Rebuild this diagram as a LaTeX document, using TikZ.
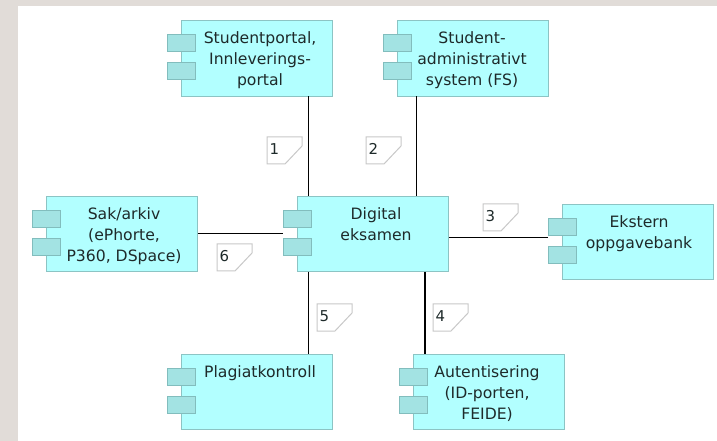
\documentclass[tikz,border=0pt]{standalone}
\usepackage{fontspec}
\setmainfont{DejaVu Sans}
\definecolor{pagegrey}{HTML}{E1DCD8}
\definecolor{compfill}{HTML}{B2FFFF}
\definecolor{compline}{HTML}{8CC4C4}
\definecolor{tabfill}{HTML}{A3E3E3}
\definecolor{tabline}{HTML}{82BDBD}
\definecolor{noteline}{HTML}{C8C8C8}
\definecolor{inktext}{HTML}{1E2A2A}
\tikzset{
  compbox/.style={draw=compline,fill=compfill,line width=1.2bp,minimum width=151.5bp,minimum height=75.5bp,inner sep=0pt,outer sep=0pt,anchor=north west},
  comptab/.style={draw=tabline,fill=tabfill,line width=1.2bp,minimum width=28bp,minimum height=17bp,inner sep=0pt,outer sep=0pt,anchor=north west},
  complabel/.style={anchor=north,align=center,inner sep=0pt,text=inktext,font=\fontsize{15.7}{21}\selectfont},
  conn/.style={draw=black,line width=1.2bp},
  notetext/.style={anchor=west,inner sep=0pt,text=inktext,font=\fontsize{15}{15}\selectfont},
  noteshape/.style={draw=noteline,fill=white,line width=1bp}
}
% name, left, top, text offset, text
\newcommand{\compnode}[5]{%
  \node[compbox] (#1) at (#2,#3) {};
  \node[comptab] (#1t) at (#2-14,#3+14) {};
  \node[comptab] (#1b) at (#2-14,#3+42) {};
  \node[complabel] (#1l) at ([xshift=#4 bp,yshift=-11bp]#1.north) {#5};
}
% name, left, top, text
\newcommand{\notenode}[4]{%
  \draw[noteshape] (#2,#3) -- (#2+35,#3) -- (#2+35,#3+9) -- (#2+18,#3+27) -- (#2,#3+27) -- cycle;
  \node[notetext] (#1) at (#2+2.5,#3+12) {#4};
}
\begin{document}
\begin{tikzpicture}[x=1bp,y=-1bp]
\useasboundingbox (0,0) rectangle (717,441);
\fill[pagegrey] (0,0) rectangle (717,441);
\fill[white] (18,6) rectangle (717,441);

\coordinate (vleft) at (308.5,0);
\coordinate (vfs) at (416.5,0);
\coordinate (vauth) at (425,0);
\coordinate (hsak) at (0,233.5);
\coordinate (hbank) at (0,237.5);

\compnode{portal}{181.3}{20.8}{3}{Studentportal,\\Innleverings-\\portal}
\compnode{fs}{397.3}{20.8}{-1}{Student-\\administrativt\\system (FS)}
\compnode{sak}{46.3}{196.3}{2}{Sak/arkiv\\(ePhorte,\\P360, DSpace)}
\compnode{dig}{297.3}{196.3}{3}{Digital\\eksamen}
\compnode{bank}{562.3}{204.3}{1}{Ekstern\\oppgavebank}
\compnode{plag}{181.3}{354.3}{3}{Plagiatkontroll}
\compnode{auth}{413.3}{354.3}{-2}{Autentisering\\(ID-porten,\\FEIDE)}

\draw[conn] (portal.south -| vleft) -- (dig.north -| vleft);
\draw[conn] (fs.south -| vfs) -- (dig.north -| vfs);
\draw[conn] (dig.east |- hbank) -- (bankt.west |- hbank);
\draw[conn] (dig.south -| vauth) -- (auth.north -| vauth);
\draw[conn] (dig.south -| vleft) -- (plag.north -| vleft);
\draw[conn] (sak.east |- hsak) -- (digt.west |- hsak);

\notenode{n1}{267}{137}{1}
\notenode{n2}{366}{137}{2}
\notenode{n3}{483}{204}{3}
\notenode{n4}{433}{304}{4}
\notenode{n5}{317}{304}{5}
\notenode{n6}{217}{244}{6}
\end{tikzpicture}
\end{document}
